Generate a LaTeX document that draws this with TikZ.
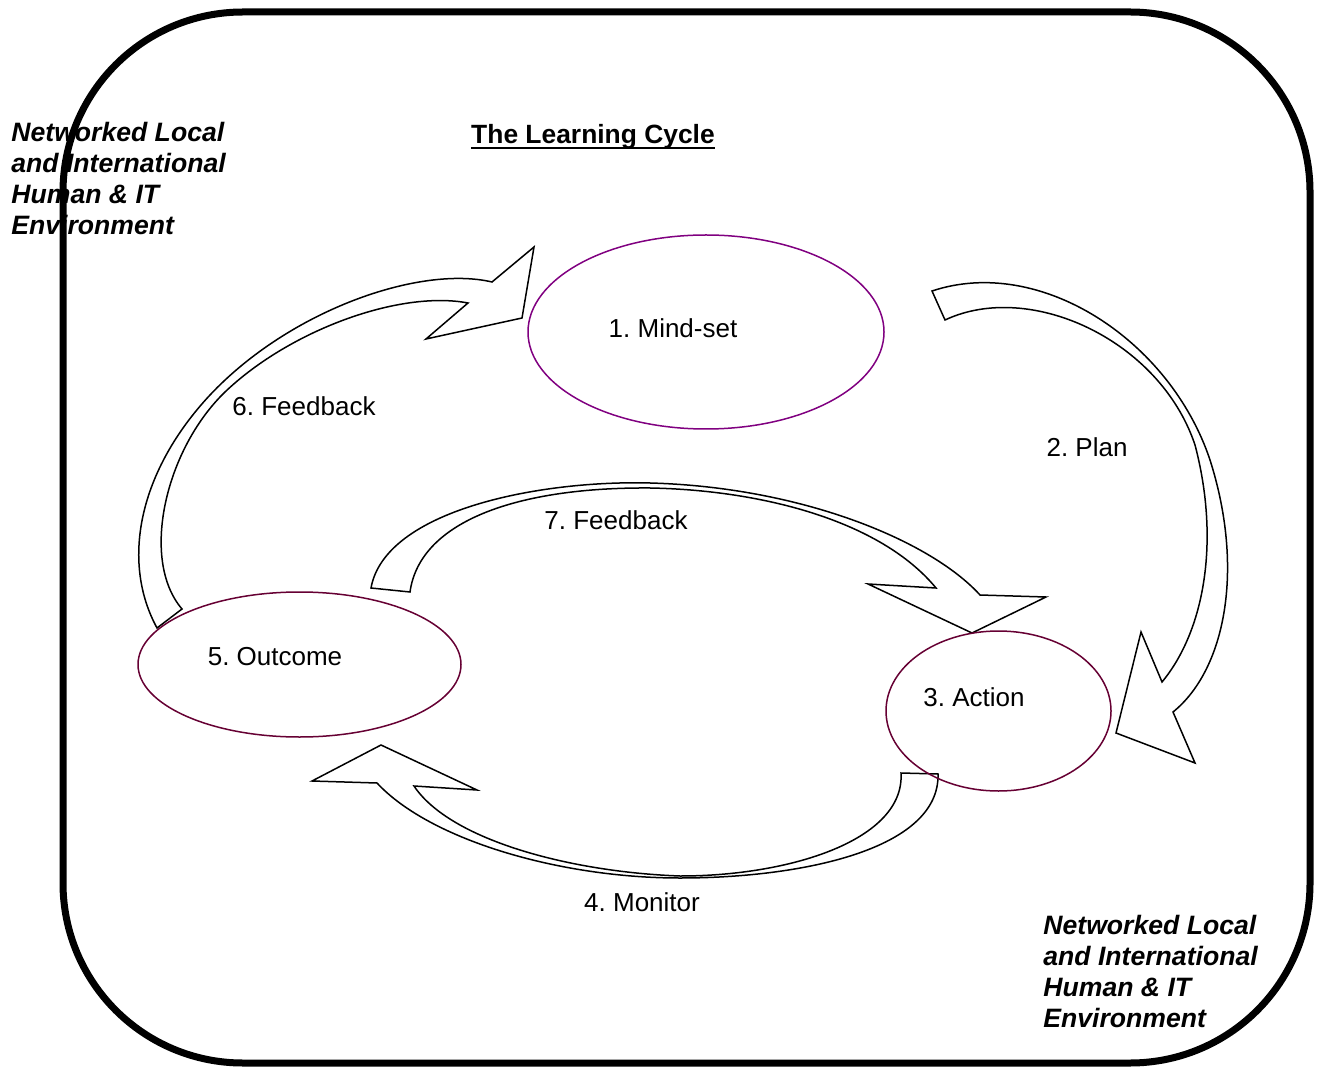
\documentclass[tikz,border=0pt]{standalone}
\usepackage{fontspec}
\setmainfont{Liberation Sans}
\usetikzlibrary{shapes.geometric}
\frenchspacing

\definecolor{mindpurple}{RGB}{128,0,128}
\definecolor{stagemaroon}{RGB}{102,0,51}

\tikzset{
  stage/.style={ellipse, draw, line width=0.75pt, inner sep=0pt},
  steplabel/.style={font=\fontsize{13}{15.5}\selectfont, inner sep=0pt},
  envtext/.style={font=\fontsize{13.3}{15.5}\selectfont\bfseries\itshape, align=left, inner sep=0pt, anchor=north west},
  blockarrow/.style={draw=black, fill=white, line width=0.75pt, line join=miter},
}

\begin{document}
\begin{tikzpicture}[x=0.5pt, y=-0.5pt]
\useasboundingbox (0,0) rectangle (1325,1068);

% environment texts
\node[envtext] (envtl) at (11,122) {Networked Local\\and International\\Human \& IT\\Environment};
\node[envtext] (envbr) at (1043,915) {Networked Local\\and International\\Human \& IT\\Environment};

% title
\node[steplabel, font=\fontsize{13.2}{15.5}\selectfont\bfseries, anchor=base] (title) at (593,144) {The Learning Cycle};
\draw[line width=1pt] ([yshift=-2.2pt]title.base west) -- ([yshift=-2.2pt]title.base east);

% block arrows
% 6. feedback
\draw[blockarrow] (157,628) .. controls (120,560) and (140,470) .. (210,395)
  .. controls (290,310) and (420,265) .. (492,282)
  -- (534,247) -- (522,318) -- (426,339) -- (468,303)
  .. controls (400,290) and (290,330) .. (225,392)
  .. controls (165,450) and (140,560) .. (182,609) -- cycle;
% 2. plan
\draw[blockarrow] (932,291) .. controls (1040,255) and (1170,340) .. (1210,460)
  .. controls (1245,570) and (1225,670) .. (1173,712)
  -- (1195,763) -- (1116,733) -- (1141,632) -- (1162,682)
  .. controls (1205,630) and (1220,540) .. (1195,445)
  .. controls (1160,340) and (1030,280) .. (945,320) -- cycle;
% 7. feedback
\draw[blockarrow] (371,588) .. controls (385,510) and (540,480) .. (650,483)
  .. controls (800,487) and (930,540) .. (980,595)
  -- (1046,597) -- (972,633) -- (868,584) -- (936,588)
  .. controls (880,520) and (760,490) .. (650,488)
  .. controls (520,487) and (420,520) .. (410,592) -- cycle;
% 4. monitor
\draw[blockarrow] (938,774) .. controls (940,850) and (800,878) .. (680,878)
  .. controls (560,878) and (430,840) .. (377,783)
  -- (312,781) -- (381,745) -- (477,790) -- (414,786)
  .. controls (450,840) and (570,872) .. (680,876)
  .. controls (790,876) and (905,840) .. (901,773) -- cycle;

% stages
\node[stage, draw=mindpurple, minimum width=178pt, minimum height=97pt] (mindset) at (706,332) {};
\node[stage, draw=stagemaroon, minimum width=161.5pt, minimum height=72.5pt] (outcome) at (299.5,664.5) {};
\node[stage, draw=stagemaroon, minimum width=112.5pt, minimum height=80pt] (action) at (998.5,711) {};

% labels
\node[steplabel] (lblmind) at (673,328) {1. Mind-set};
\node[steplabel] (lblplan) at (1087,447) {2. Plan};
\node[steplabel] (lblaction) at (974,697) {3. Action};
\node[steplabel] (lblmonitor) at (642,902) {4. Monitor};
\node[steplabel] (lbloutcome) at (275,657) {5. Outcome};
\node[steplabel] (lblfeedsix) at (304,406) {6. Feedback};
\node[steplabel] (lblfeedseven) at (616,520) {7. Feedback};

% environment frame
\node[draw, line width=3.5pt, rounded corners=90pt, minimum width=623.5pt, minimum height=525.5pt, inner sep=0pt, outer sep=0pt] (envbox) at (686.5,537.5) {};
\end{tikzpicture}
\end{document}
